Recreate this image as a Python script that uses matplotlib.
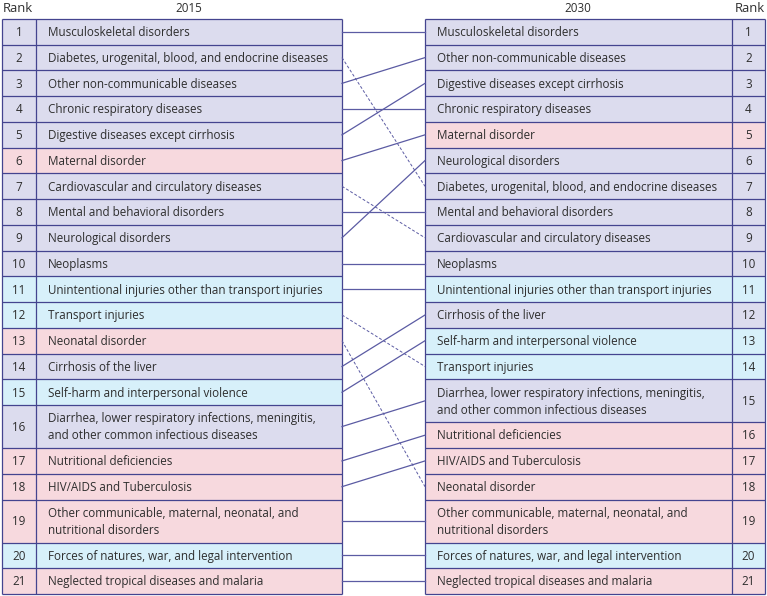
import matplotlib
matplotlib.use("Agg")
import matplotlib.pyplot as plt
from matplotlib.patches import Rectangle

plt.rcParams["font.family"] = ["Open Sans", "DejaVu Sans"]

# ---------- data ----------
NCD, CMNN, INJ = "ncd", "cmnn", "inj"

names_2015 = [
    "Musculoskeletal disorders",
    "Diabetes, urogenital, blood, and endocrine diseases",
    "Other non-communicable diseases",
    "Chronic respiratory diseases",
    "Digestive diseases except cirrhosis",
    "Maternal disorder",
    "Cardiovascular and circulatory diseases",
    "Mental and behavioral disorders",
    "Neurological disorders",
    "Neoplasms",
    "Unintentional injuries other than transport injuries",
    "Transport injuries",
    "Neonatal disorder",
    "Cirrhosis of the liver",
    "Self-harm and interpersonal violence",
    "Diarrhea, lower respiratory infections, meningitis,\nand other common infectious diseases",
    "Nutritional deficiencies",
    "HIV/AIDS and Tuberculosis",
    "Other communicable, maternal, neonatal, and\nnutritional disorders",
    "Forces of natures, war, and legal intervention",
    "Neglected tropical diseases and malaria",
]
groups_2015 = [NCD, NCD, NCD, NCD, NCD, CMNN, NCD, NCD, NCD, NCD, INJ,
               INJ, CMNN, NCD, INJ, NCD, CMNN, CMNN, CMNN, INJ, CMNN]

names_2030 = [
    "Musculoskeletal disorders",
    "Other non-communicable diseases",
    "Digestive diseases except cirrhosis",
    "Chronic respiratory diseases",
    "Maternal disorder",
    "Neurological disorders",
    "Diabetes, urogenital, blood, and endocrine diseases",
    "Mental and behavioral disorders",
    "Cardiovascular and circulatory diseases",
    "Neoplasms",
    "Unintentional injuries other than transport injuries",
    "Cirrhosis of the liver",
    "Self-harm and interpersonal violence",
    "Transport injuries",
    "Diarrhea, lower respiratory infections, meningitis,\nand other common infectious diseases",
    "Nutritional deficiencies",
    "HIV/AIDS and Tuberculosis",
    "Neonatal disorder",
    "Other communicable, maternal, neonatal, and\nnutritional disorders",
    "Forces of natures, war, and legal intervention",
    "Neglected tropical diseases and malaria",
]
groups_2030 = [NCD, NCD, NCD, NCD, CMNN, NCD, NCD, NCD, NCD, NCD, INJ,
               NCD, INJ, INJ, NCD, CMNN, CMNN, CMNN, CMNN, INJ, CMNN]

ranks = list(range(1, 22))

COLORS = {NCD: "#dcdcee", CMNN: "#f7d9de", INJ: "#d7f0fa"}
EDGE = "#44448f"
LINK = "#5b5ba3"
TXT = "#2e2e2e"

# ---------- figure in pixel coords ----------
W, H = 767, 596
fig = plt.figure(figsize=(W / 100, H / 100), dpi=100)
ax = fig.add_axes([0, 0, 1, 1])
ax.set_xlim(0, W)
ax.set_ylim(H, 0)
ax.axis("off")

TOP, BOT = 19, 594
FS = 8.4


def row_layout(names):
    units = [1.67 if "\n" in n else 1.0 for n in names]
    h = (BOT - TOP) / sum(units)
    y0s, hs = [], []
    y = TOP
    for u in units:
        y0s.append(y)
        hs.append(u * h)
        y += u * h
    return y0s, hs


def draw_table(names, groups, x_rank, x_name, x_end):
    y0s, hs = row_layout(names)
    left = min(x_rank[0], x_name)
    right = max(x_rank[1], x_end)
    for name, g, r, y0, h in zip(names, groups, ranks, y0s, hs):
        ax.add_patch(Rectangle((left, y0), right - left, h,
                               facecolor=COLORS[g], edgecolor="none"))
        yc = y0 + h / 2 + 0.8
        ax.text(x_name + 12, yc, name, ha="left", va="center",
                fontsize=FS, color=TXT, linespacing=1.4)
        ax.text((x_rank[0] + x_rank[1]) / 2, yc, str(r), ha="center",
                va="center", fontsize=FS, color=TXT)
    # grid lines
    for y0 in y0s + [BOT]:
        ax.plot([left, right], [y0, y0], color=EDGE, lw=0.9, solid_capstyle="butt")
    for x in sorted({left, right, x_rank[0], x_rank[1]}):
        ax.plot([x, x], [TOP, BOT], color=EDGE, lw=0.9, solid_capstyle="butt")
    return [y0 + h / 2 for y0, h in zip(y0s, hs)]


# left table: rank 2..36, names 36..342
yl = draw_table(names_2015, groups_2015, (2, 36), 36, 342)
# right table: names 425..732, rank 732..765
yr = draw_table(names_2030, groups_2030, (732, 765), 425, 732)

# connecting lines (dashed = rank falls)
for i, n in enumerate(names_2015):
    j = names_2030.index(n)
    ls = (0, (3, 2)) if j > i else "-"
    lw = 0.7 if j > i else 0.9
    ax.plot([342, 425], [yl[i], yr[j]], color=LINK, lw=lw, linestyle=ls)

# headers
ax.text(3, 8, "Rank", ha="left", va="center", fontsize=9.4, color=TXT)
ax.text(189, 8, "2015", ha="center", va="center", fontsize=FS, color=TXT)
ax.text(578, 8, "2030", ha="center", va="center", fontsize=FS, color=TXT)
ax.text(765, 8, "Rank", ha="right", va="center", fontsize=9.4, color=TXT)

fig.savefig("out.png", dpi=100)
